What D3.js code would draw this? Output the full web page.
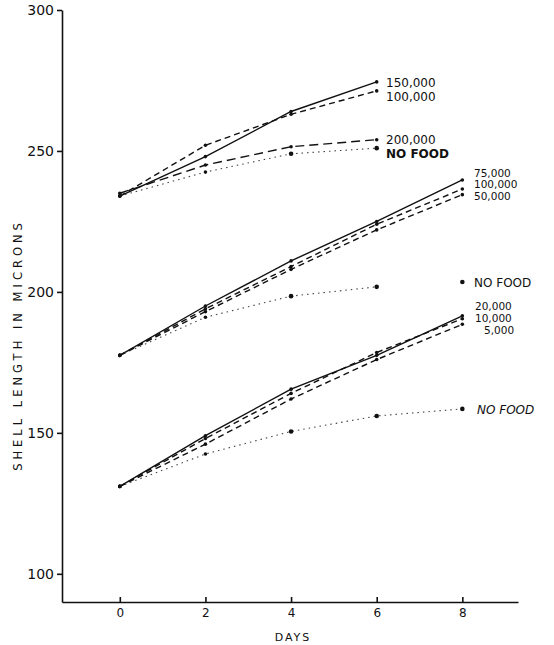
<!DOCTYPE html>
<html>
<head>
<meta charset="utf-8">
<script src="https://cdn.jsdelivr.net/npm/d3@7"></script>
<style>
  body { margin: 0; background: #fff; }
  text { font-family: "DejaVu Sans", sans-serif; fill: #111; }
  .axis path, .axis line { stroke: #111; stroke-width: 1.6; }
  .axis text { font-size: 14px; }
  .xaxis text { font-size: 12px; }
  .lab { font-size: 12px; }
  .lab.tight { font-size: 10.5px; }
</style>
</head>
<body>
<div id="vis"></div>
<script>
const W = 554, H = 645;

// days sampled
const days = [0, 2, 4, 6, 8];
const yTicks = [100, 150, 200, 250, 300];
const xTicks = [0, 2, 4, 6, 8];

// top group (days 0-6)
const top150k = [234, 248, 264, 274.5];
const top100k = [234, 252, 263, 271.3];
const top200k = [235, 245, 251.5, 254];
const topNoFood = [234, 242.5, 249, 251];

// middle group (days 0-8)
const mid75k = [177.5, 195, 211, 225, 239.7];
const mid100k = [177.5, 194, 209, 224, 236.5];
const mid50k = [177.5, 193, 208, 222, 234.5];
const midNoFood = [177.5, 191, 198.5, 201.8, 203.5];

// bottom group (days 0-8)
const low20k = [131, 149, 165.5, 177.5, 191.5];
const low10k = [131, 148, 164, 178.5, 190.5];
const low5k = [131, 146, 162, 176, 188.5];
const lowNoFood = [131, 142.5, 150.5, 156, 158.5];

const x = d3.scaleLinear().domain([-1.35, 9.3]).range([62, 518]);
const y = d3.scaleLinear().domain([90, 300]).range([602, 10]);

const series = [
  { vals: top150k, style: 'solid' },
  { vals: top100k, style: 'dash' },
  { vals: top200k, style: 'longdash' },
  { vals: topNoFood, style: 'dot' },
  { vals: mid75k, style: 'solid' },
  { vals: mid100k, style: 'dash' },
  { vals: mid50k, style: 'dash' },
  { vals: midNoFood, style: 'dot', noLineAfter: 3 },
  { vals: low20k, style: 'solid' },
  { vals: low10k, style: 'dash' },
  { vals: low5k, style: 'dash' },
  { vals: lowNoFood, style: 'dot' }
];

const labels = [
  { text: '150,000', x: 386, y: 83 },
  { text: '100,000', x: 386, y: 97 },
  { text: '200,000', x: 386, y: 140 },
  { text: 'NO FOOD', x: 386, y: 154, bold: true },
  { text: '75,000', x: 474, y: 173, tight: true },
  { text: '100,000', x: 474, y: 184.5, tight: true },
  { text: '50,000', x: 474, y: 196, tight: true },
  { text: 'NO FOOD', x: 474, y: 283 },
  { text: '20,000', x: 475, y: 306, tight: true },
  { text: '10,000', x: 475, y: 318, tight: true },
  { text: '5,000', x: 484, y: 330, tight: true },
  { text: 'NO FOOD', x: 477, y: 410, italic: true }
];

const svg = d3.select('#vis').append('svg')
  .attr('width', W).attr('height', H);

// axes
svg.append('g')
  .attr('class', 'axis')
  .attr('transform', 'translate(62,0)')
  .call(d3.axisLeft(y).tickValues(yTicks).tickSizeInner(5).tickSizeOuter(0).tickPadding(3));

svg.append('g')
  .attr('class', 'axis xaxis')
  .attr('transform', 'translate(0,602)')
  .call(d3.axisBottom(x).tickValues(xTicks).tickSizeInner(-5).tickSizeOuter(0).tickPadding(6));

const dashes = { solid: null, dash: '6,4', longdash: '9,5', dot: '1.5,4' };
const line = d3.line().x(d => x(d[0])).y(d => y(d[1]));

series.forEach(s => {
  let pts = s.vals.map((v, i) => [days[i], v]);
  let linePts = s.noLineAfter != null ? pts.slice(0, s.noLineAfter + 1) : pts;
  svg.append('path')
    .attr('d', line(linePts))
    .attr('fill', 'none')
    .attr('stroke', s.style === 'dot' ? '#444' : '#111')
    .attr('stroke-width', s.style === 'dot' ? 1.1 : 1.4)
    .attr('stroke-dasharray', dashes[s.style]);
  svg.selectAll(null)
    .data(pts)
    .enter()
    .append('circle')
    .attr('cx', d => x(d[0]))
    .attr('cy', d => y(d[1]))
    .attr('r', (d, i) => s.style === 'dot' && i > 1 ? 2.3 : 1.8)
    .attr('fill', '#111');
});

svg.selectAll('.lab')
  .data(labels)
  .enter()
  .append('text')
  .attr('class', d => d.tight ? 'lab tight' : 'lab')
  .attr('x', d => d.x)
  .attr('y', d => d.y)
  .attr('dy', '0.35em')
  .attr('font-weight', d => d.bold ? 'bold' : null)
  .attr('font-style', d => d.italic ? 'italic' : null)
  .text(d => d.text);

// axis titles
svg.append('text')
  .attr('transform', 'translate(18,345) rotate(-90)')
  .attr('text-anchor', 'middle')
  .attr('dy', '0.35em')
  .style('font-size', '11.5px')
  .style('letter-spacing', '4px')
  .text('SHELL  LENGTH  IN  MICRONS');

svg.append('text')
  .attr('x', 293)
  .attr('y', 637)
  .attr('text-anchor', 'middle')
  .attr('dy', '0.35em')
  .style('font-size', '11px')
  .style('letter-spacing', '2px')
  .text('DAYS');
</script>
</body>
</html>
